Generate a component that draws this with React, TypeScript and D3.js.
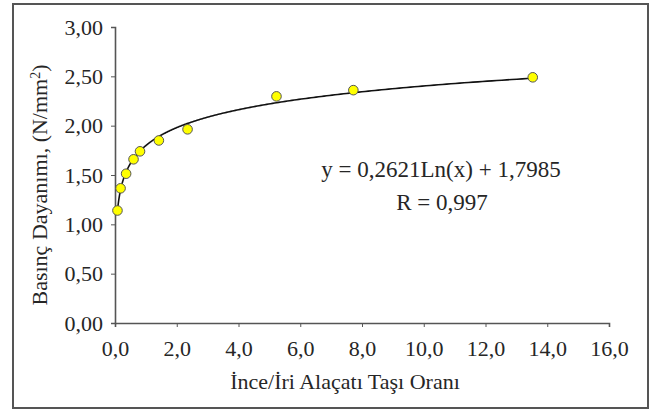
import React, { useEffect, useRef } from 'react';
import * as d3 from 'd3';

const xValues = [0.08, 0.18, 0.36, 0.6, 0.81, 1.42, 2.35, 5.23, 7.72, 13.53];
const yValues = [1.14, 1.365, 1.513, 1.659, 1.74, 1.85, 1.963, 2.297, 2.36, 2.49];
const xTicks = [0, 2, 4, 6, 8, 10, 12, 14, 16];
const yTicks = [0, 0.5, 1, 1.5, 2, 2.5, 3];
const coefA = 0.2621;
const coefB = 1.7985;

function App() {
  const svgRef = useRef<SVGSVGElement>(null);

  useEffect(() => {
    const svg = d3.select(svgRef.current);
    svg.selectAll('*').remove();

    const width = 654;
    const height = 411;
    const font = "'Liberation Serif', 'Times New Roman', serif";
    const ink = '#262626';

    svg.attr('width', width).attr('height', height);

    svg.append('rect')
      .attr('x', 13).attr('y', 4).attr('width', 635).attr('height', 404)
      .attr('fill', 'white').attr('stroke', '#555').attr('stroke-width', 2);

    const x = d3.scaleLinear().domain([0, 16]).range([115, 609]);
    const y = d3.scaleLinear().domain([0, 3]).range([323, 27]);

    const xAxis = svg.append('g')
      .attr('transform', `translate(0,${y(0)})`)
      .call(d3.axisBottom(x).tickValues(xTicks).tickSize(4).tickSizeOuter(4)
        .tickFormat(d => d3.format('.1f')(d as number).replace('.', ',')));
    const yAxis = svg.append('g')
      .attr('transform', `translate(${x(0)},0)`)
      .call(d3.axisLeft(y).tickValues(yTicks).tickSize(4).tickSizeOuter(4)
        .tickFormat(d => d3.format('.2f')(d as number).replace('.', ',')));

    [xAxis, yAxis].forEach(a => {
      a.select('.domain').attr('stroke', '#555').attr('stroke-width', 1.6);
      a.selectAll('.tick line').attr('stroke', '#555');
      a.selectAll('.tick text')
        .attr('font-family', font).attr('font-size', 22).attr('fill', ink);
    });
    xAxis.selectAll('.tick text').attr('y', 17).attr('dy', '0.71em');
    yAxis.selectAll('.tick text').attr('x', -12);

    // trend curve
    const curveX = d3.range(0, 401).map(i => xValues[0] * Math.pow(d3.max(xValues)! / xValues[0], i / 400));
    const line = d3.line<number>()
      .x(d => x(d))
      .y(d => y(coefA * Math.log(d) + coefB));
    svg.append('path')
      .datum(curveX)
      .attr('d', line)
      .attr('fill', 'none')
      .attr('stroke', '#111')
      .attr('stroke-width', 1.6);

    svg.append('g').selectAll('circle')
      .data(xValues)
      .enter()
      .append('circle')
      .attr('cx', d => x(d))
      .attr('cy', (d, i) => y(yValues[i]))
      .attr('r', 4.8)
      .attr('fill', '#ffff00')
      .attr('stroke', '#555')
      .attr('stroke-width', 1);

    svg.append('text')
      .attr('x', 441).attr('y', 177)
      .attr('text-anchor', 'middle')
      .attr('font-family', font).attr('font-size', 23).attr('fill', ink)
      .text('y = 0,2621Ln(x) + 1,7985');
    svg.append('text')
      .attr('x', 442).attr('y', 210)
      .attr('text-anchor', 'middle')
      .attr('font-family', font).attr('font-size', 23).attr('fill', ink)
      .text('R = 0,997');

    svg.append('text')
      .attr('x', 345).attr('y', 389)
      .attr('text-anchor', 'middle')
      .attr('font-family', font).attr('font-size', 22).attr('fill', ink)
      .text('İnce/İri Alaçatı Taşı Oranı');

    const yt = svg.append('text')
      .attr('transform', 'translate(47,185) rotate(-90)')
      .attr('text-anchor', 'middle')
      .attr('font-family', font).attr('font-size', 22).attr('fill', ink);
    yt.append('tspan').text('Basınç Dayanımı, (N/mm');
    yt.append('tspan').attr('baseline-shift', 'super').attr('font-size', 14).text('2');
    yt.append('tspan').text(')');
  }, []);

  return (
    <svg ref={svgRef} style={{ position: 'absolute', left: 0, top: 0, display: 'block' }}></svg>
  );
}

export default App;
